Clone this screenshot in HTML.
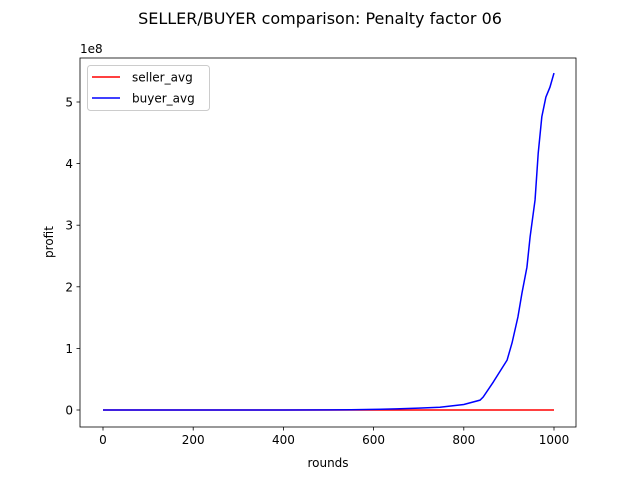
<!DOCTYPE html>
<html><head><meta charset="utf-8"><style>
body{margin:0;background:#fff;}
svg{display:block;font-family:"DejaVu Sans","Liberation Sans",sans-serif;}
</style></head><body>
<svg id="chart" width="640" height="480">
<text x="320" y="24" font-size="16" text-anchor="middle">SELLER/BUYER comparison: Penalty factor 06</text>
<g id="plot"></g>
</svg>
<script>
const rounds=[0,100,200,300,400,500,550,600,650,700,747,800,836,843,865,896,907,920,929,940,947,958,965,973,982,991,1000];
const buyerAvg=[0,0,0,0,0,0.002,0.004,0.01,0.018,0.03,0.044,0.09,0.16,0.21,0.45,0.81,1.09,1.51,1.90,2.32,2.81,3.41,4.17,4.76,5.08,5.24,5.47];
const sellerAvg=[0,0,0,0,0,0,0,0,0,0,0,0,0,0,0,0,0,0,0,0,0,0,0,0,0,0,0];
const xTicks=[0,200,400,600,800,1000];
const yTicks=[0,1,2,3,4,5];
const L=80,R=576,T=58,B=427;
const xs=v=>103+v*0.451;
const ys=v=>410-v*61.6;
const ns="http://www.w3.org/2000/svg";
const g=document.getElementById('plot');
function mk(t,a){const e=document.createElementNS(ns,t);for(const k in a)e.setAttribute(k,a[k]);g.appendChild(e);return e;}
function line(vals,color,name){
 const p=mk('polyline',{points:rounds.map((r,i)=>xs(r)+','+ys(vals[i])).join(' '),fill:'none',stroke:color,'stroke-width':1.5});
 
 
}
line(sellerAvg,'#ff0000','seller-avg-line');
line(buyerAvg,'#0000ff','buyer-avg-line');
const fr=mk('rect',{x:L,y:T,width:R-L,height:B-T,fill:'none',stroke:'#000','stroke-width':0.8});


xTicks.forEach(v=>{
 mk('line',{x1:xs(v),x2:xs(v),y1:B,y2:B+3.5,stroke:'#000','stroke-width':0.8});
 const t=mk('text',{x:xs(v),y:B+17,'font-size':12,'text-anchor':'middle'});t.textContent=v;
 
 
});
yTicks.forEach(v=>{
 mk('line',{x1:L,x2:L-3.5,y1:ys(v),y2:ys(v),stroke:'#000','stroke-width':0.8});
 const t=mk('text',{x:L-7,y:ys(v)+4.5,'font-size':12,'text-anchor':'end'});t.textContent=v;
 
 
});
let t=mk('text',{x:80,y:53,'font-size':12});t.textContent='1e8';


t=mk('text',{x:328,y:467,'font-size':12,'text-anchor':'middle'});t.textContent='rounds';


t=mk('text',{x:0,y:0,'font-size':12,'text-anchor':'middle',transform:'translate(53,242) rotate(-90)'});t.textContent='profit';


const lg=mk('rect',{x:87.5,y:65.5,width:122,height:45,rx:3,fill:'#fff','fill-opacity':0.8,stroke:'#ccc'});


[['seller_avg','#ff0000',77],['buyer_avg','#0000ff',98]].forEach(([n,c,y])=>{
 mk('line',{x1:92,x2:120,y1:y,y2:y,stroke:c,'stroke-width':1.5});
 const tx=mk('text',{x:132,y:y+4.5,'font-size':12});tx.textContent=n;
 
 
});
</script>
</body></html>
